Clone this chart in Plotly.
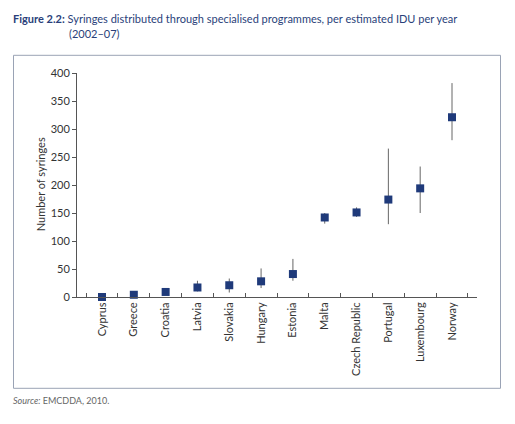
import plotly.graph_objects as go

countries = ["Cyprus", "Greece", "Croatia", "Latvia", "Slovakia", "Hungary",
             "Estonia", "Malta", "Czech Republic", "Portugal", "Luxembourg", "Norway"]
values = [0, 4, 9, 17, 21, 28, 41, 142, 151, 174, 194, 321]
upper = [0, 0, 0, 29, 33, 51, 68, 150, 160, 265, 233, 382]
lower = [0, 0, 0, 10, 8, 16, 29, 131, 143, 130, 150, 280]

err_plus = [u - v if u > v else 0 for u, v in zip(upper, values)]
err_minus = [v - l if l < v and l > 0 else 0 for l, v in zip(lower, values)]

FONT = "Lato"
NAVY = "#1f3a7a"

# plot area in pixels: x 77..477, y 72.7..296.7
PW, PH = 400.0, 224.0
def px(x):
    return (x - 77) / PW
def py(y):
    return (296.7 - y) / PH

fig = go.Figure()
fig.add_trace(go.Scatter(
    x=countries, y=values, mode="markers",
    marker=dict(symbol="square", size=8, color=NAVY),
    error_y=dict(type="data", symmetric=False, array=err_plus, arrayminus=err_minus,
                 color="#666666", thickness=1, width=0),
    cliponaxis=False, showlegend=False,
))

fig.update_layout(
    width=515, height=424,
    margin=dict(l=77, r=38, t=73, b=127, autoexpand=False),
    paper_bgcolor="white", plot_bgcolor="white",
    font=dict(family=FONT, size=11, color="#333333"),
    xaxis=dict(showline=True, linecolor="#555555", linewidth=1, automargin=False,
               ticks="inside", ticklen=4, tickcolor="#555555", tickson="boundaries",
               tickangle=-90, showgrid=False, zeroline=False,
               tickfont=dict(size=11, color="#333333")),
    yaxis=dict(range=[0, 400], showline=True, linecolor="#555555", linewidth=1, automargin=False,
               ticks="outside", ticklen=4, tickcolor="#555555", dtick=50,
               showgrid=False, zeroline=False,
               tickfont=dict(size=11, color="#333333")),
    shapes=[dict(type="rect", xref="paper", yref="paper",
                 x0=px(13.5), x1=px(500.5), y0=py(388), y1=py(55),
                 line=dict(color="#9aa3b5", width=1))],
    annotations=[
        dict(xref="paper", yref="paper", x=px(11), y=py(10), xanchor="left", yanchor="top",
             text="<b>Figure 2.2:</b> Syringes distributed through specialised programmes, per estimated IDU per year",
             showarrow=False, align="left", font=dict(size=11, color="#2a3f7a")),
        dict(xref="paper", yref="paper", x=px(67), y=py(25), xanchor="left", yanchor="top",
             text="(2002–07)", showarrow=False, align="left",
             font=dict(size=11, color="#2a3f7a")),
        dict(xref="paper", yref="paper", x=px(40), y=py(184), xanchor="center", yanchor="middle",
             text="Number of syringes", textangle=-90, showarrow=False,
             font=dict(size=11, color="#333333")),
        dict(xref="paper", yref="paper", x=px(11), y=py(393), xanchor="left", yanchor="top",
             text="<i>Source:</i> EMCDDA, 2010.", showarrow=False, align="left",
             font=dict(size=9, color="#666666")),
    ],
)

fig.write_html("out.html", config={"displayModeBar": False},
               post_script="document.body.style.margin='0';document.body.style.overflow='hidden';")
